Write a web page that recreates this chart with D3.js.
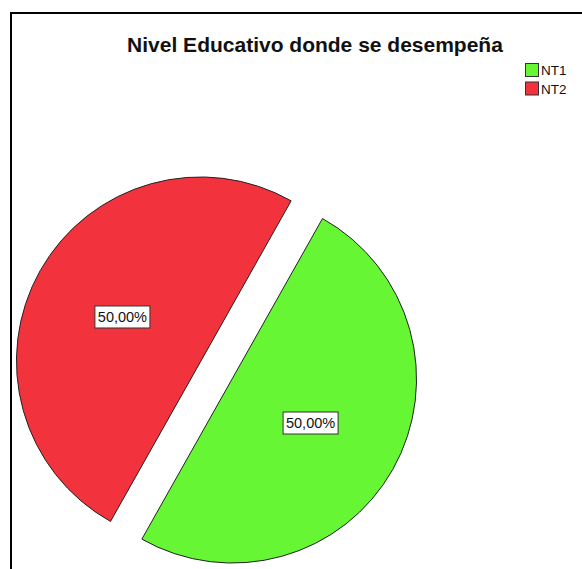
<!DOCTYPE html>
<html>
<head>
<meta charset="utf-8">
<script src="https://cdn.jsdelivr.net/npm/d3@7"></script>
<style>
  body { margin: 0; background: #fff; }
  svg { display: block; font-family: "Liberation Sans", Arial, sans-serif; }
</style>
</head>
<body>
<div id="chart"></div>
<script>
var categories = ["NT1", "NT2"];
var values = [50, 50];
var labels = ["50,00%", "50,00%"];
var colors = ["#66f633", "#f2333d"];

var WIDTH = 582, HEIGHT = 569;
var RADIUS = 184;
var EXPLODE = 18;
var START_DEG = 29.4;

var svg = d3.select("#chart").append("svg")
  .attr("width", WIDTH)
  .attr("height", HEIGHT);

// frame (only top and left edges show in the crop)
svg.append("rect")
  .attr("x", 11).attr("y", 13)
  .attr("width", WIDTH + 20).attr("height", HEIGHT + 20)
  .attr("fill", "none")
  .attr("stroke", "#000")
  .attr("stroke-width", 2);

svg.append("text")
  .attr("x", 315).attr("y", 52)
  .attr("text-anchor", "middle")
  .attr("font-size", 21)
  .attr("font-weight", "bold")
  .attr("fill", "#111")
  .text("Nivel Educativo donde se desempeña");

var start = START_DEG * Math.PI / 180;
var pie = d3.pie().sort(null)
  .startAngle(start)
  .endAngle(start + 2 * Math.PI);
var arcs = pie(values);

var arc = d3.arc().innerRadius(0).outerRadius(RADIUS);

var g = svg.append("g").attr("transform", "translate(216.5,370)");

var slices = g.selectAll("g.slice").data(arcs).enter()
  .append("g")
  .attr("class", "slice")
  .attr("transform", function(d) {
    var a = (d.startAngle + d.endAngle) / 2;
    return "translate(" + (Math.sin(a) * EXPLODE) + "," + (-Math.cos(a) * EXPLODE) + ")";
  });

slices.append("path")
  .attr("d", arc)
  .attr("fill", function(d, i) { return colors[i]; })
  .attr("stroke", "#222")
  .attr("stroke-width", 1);

slices.each(function(d, i) {
  var a = (d.startAngle + d.endAngle) / 2;
  var r = 90;
  var cx = Math.sin(a) * r, cy = -Math.cos(a) * r;
  var sel = d3.select(this);
  sel.append("rect")
    .attr("x", cx - 27.5).attr("y", cy - 11)
    .attr("width", 55).attr("height", 22)
    .attr("fill", "#fff")
    .attr("stroke", "#333")
    .attr("stroke-width", 1);
  sel.append("text")
    .attr("x", cx).attr("y", cy + 5)
    .attr("text-anchor", "middle")
    .attr("font-size", 14.5)
    .attr("fill", "#111")
    .text(labels[i]);
});

var legend = svg.append("g").attr("transform", "translate(525,63)");
var items = legend.selectAll("g").data(categories).enter()
  .append("g")
  .attr("transform", function(d, i) { return "translate(0," + (i * 18.5) + ")"; });
items.append("rect")
  .attr("x", 0.5).attr("y", 0.5)
  .attr("width", 13).attr("height", 13)
  .attr("fill", function(d, i) { return colors[i]; })
  .attr("stroke", "#333");
items.append("text")
  .attr("x", 16).attr("y", 12)
  .attr("font-size", 13.5)
  .attr("fill", "#111")
  .text(function(d) { return d; });
</script>
</body>
</html>
